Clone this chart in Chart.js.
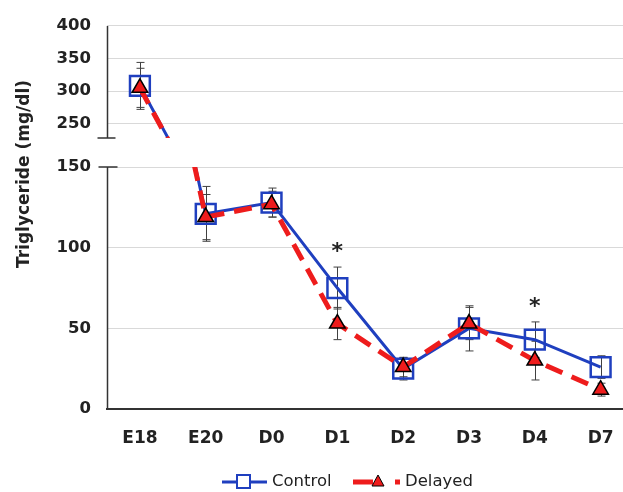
<!DOCTYPE html>
<html>
<head>
<meta charset="utf-8">
<title>Triglyceride</title>
<script src="https://cdn.jsdelivr.net/npm/chart.js@4.4.1/dist/chart.umd.min.js"></script>
<style>
  html, body { margin: 0; padding: 0; background: #fff; overflow: hidden; }
  #wrap { width: 623px; height: 492px; }
</style>
</head>
<body>
<div id="wrap"><canvas id="chart"></canvas></div>
<script>
// data
let categories = ['E18', 'E20', 'D0', 'D1', 'D2', 'D3', 'D4', 'D7'];
let controlValues = [308, 121, 128, 75, 25, 50, 43, 26];
let controlErrors = [36, 17, 9, 13, 7, 14, 11, 7];
let delayedValues = [305, 119, 127, 53, 26, 53, 30, 12];
let delayedErrors = [30, 14, 8, 10, 6, 10, 12, 4];
let significance = ['', '', '', '*', '', '', '*', ''];
let upperTicks = [250, 300, 350, 400];
let lowerTicks = [0, 50, 100, 150];
let seriesNames = ['Control', 'Delayed'];
let axisTitle = 'Triglyceride (mg/dl)';

const BLUE = '#1f3fbf';
const RED = '#ee1c1c';
const INK = '#222222';
const BREAK_LOW = 228;   // bottom of the upper axis
const LOW_MAX = 168;     // top of the lower axis (gap above 150)
const GAP = 29;          // pixels between 150 and the break

function points(values){
  return values.map((v, i) => ({x: i, y: v}));
}

function controlSet(axis, clip){
  return {
    label: seriesNames[0],
    data: points(controlValues),
    yAxisID: axis,
    clip: clip,
    order: 2,
    borderColor: BLUE,
    borderWidth: 3,
    tension: 0,
    pointStyle: 'rect',
    pointRadius: 14,
    pointBorderWidth: 2.5,
    pointBorderColor: BLUE,
    pointBackgroundColor: 'rgba(255,255,255,0)'
  };
}

function delayedSet(axis, clip){
  return {
    label: seriesNames[1],
    data: points(delayedValues),
    yAxisID: axis,
    clip: clip,
    order: 1,
    borderColor: RED,
    borderWidth: 5,
    borderDash: [18, 10],
    tension: 0,
    pointStyle: 'triangle',
    pointRadius: 9,
    pointBorderWidth: 1.5,
    pointBorderColor: '#000',
    pointBackgroundColor: RED
  };
}

let topClip = {left: false, right: false, top: false, bottom: 0};
let lowClip = {left: false, right: false, top: -GAP, bottom: false};

// error bars under the lines
const errorBars = {
  id: 'errorBars',
  beforeDatasetsDraw(chart){
    const {ctx, scales} = chart;
    ctx.save();
    ctx.strokeStyle = '#404040';
    ctx.lineWidth = 1;
    [[controlValues, controlErrors], [delayedValues, delayedErrors]].forEach(([vals, errs]) => {
      vals.forEach((v, i) => {
        const y = v > BREAK_LOW ? scales.yTop : scales.yLow;
        const x = Math.round(scales.x.getPixelForValue(i)) + 0.5;
        const top = y.getPixelForValue(v + errs[i]);
        const bot = y.getPixelForValue(v - errs[i]);
        ctx.beginPath();
        ctx.moveTo(x, top); ctx.lineTo(x, bot);
        ctx.moveTo(x - 4, top); ctx.lineTo(x + 4, top);
        ctx.moveTo(x - 4, bot); ctx.lineTo(x + 4, bot);
        ctx.stroke();
      });
    });
    ctx.restore();
  }
};

// broken y axis, title, stars, legend
const decorations = {
  id: 'decorations',
  afterDraw(chart){
    const {ctx, scales} = chart;
    const yTop = scales.yTop, yLow = scales.yLow, xs = scales.x;
    const ax = Math.round(xs.left) + 0.5;
    ctx.save();
    ctx.strokeStyle = '#333';
    ctx.lineWidth = 1.5;

    // upper axis piece
    let t0 = yTop.getPixelForValue(upperTicks[upperTicks.length - 1]);
    let t1 = yTop.bottom;
    ctx.beginPath();
    ctx.moveTo(ax, t0); ctx.lineTo(ax, t1);
    ctx.moveTo(ax - 10, t1); ctx.lineTo(ax + 8, t1);
    ctx.stroke();

    // lower axis piece
    let l0 = yLow.getPixelForValue(lowerTicks[lowerTicks.length - 1]);
    let l1 = yLow.getPixelForValue(0);
    ctx.beginPath();
    ctx.moveTo(ax - 9, l0); ctx.lineTo(ax + 10, l0);
    ctx.moveTo(ax, l0); ctx.lineTo(ax, l1);
    ctx.stroke();

    // axis title
    ctx.fillStyle = INK;
    ctx.font = 'bold 17px "DejaVu Sans"';
    ctx.textAlign = 'center';
    ctx.textBaseline = 'middle';
    ctx.translate(25, 174);
    ctx.rotate(-Math.PI / 2);
    ctx.fillText(axisTitle, 0, 0);
    ctx.setTransform(1, 0, 0, 1, 0, 0);

    // significance stars
    ctx.font = 'bold 22px "DejaVu Sans"';
    ctx.textBaseline = 'alphabetic';
    significance.forEach((s, i) => {
      if (!s) return;
      const v = controlValues[i] + controlErrors[i];
      const y = (v > BREAK_LOW ? yTop : yLow).getPixelForValue(v);
      ctx.fillText(s, xs.getPixelForValue(i), y - 9);
    });

    // legend
    const ly = 482;
    ctx.lineWidth = 3;
    ctx.strokeStyle = BLUE;
    ctx.beginPath(); ctx.moveTo(222, ly); ctx.lineTo(267, ly); ctx.stroke();
    ctx.lineWidth = 2;
    ctx.fillStyle = '#fff';
    ctx.fillRect(237, ly - 7, 13, 13);
    ctx.strokeRect(237, ly - 7, 13, 13);

    ctx.strokeStyle = RED;
    ctx.lineWidth = 5;
    ctx.setLineDash([20, 22]);
    ctx.beginPath(); ctx.moveTo(353, ly); ctx.lineTo(400, ly); ctx.stroke();
    ctx.setLineDash([]);
    ctx.fillStyle = RED;
    ctx.strokeStyle = '#000';
    ctx.lineWidth = 1;
    ctx.beginPath();
    ctx.moveTo(378, ly - 7); ctx.lineTo(384, ly + 4); ctx.lineTo(372, ly + 4); ctx.closePath();
    ctx.fill(); ctx.stroke();

    ctx.fillStyle = INK;
    ctx.font = '16.5px "DejaVu Sans"';
    ctx.textAlign = 'left';
    ctx.textBaseline = 'middle';
    ctx.fillText(seriesNames[0], 272, ly);
    ctx.fillText(seriesNames[1], 405, ly);
    ctx.restore();
  }
};

let yTickFont = {family: 'DejaVu Sans', size: 16.5, weight: 'bold'};

let ctx = document.getElementById('chart').getContext('2d');
let myChart = new Chart(ctx, {
  type: 'line',
  data: {
    datasets: [
      controlSet('yTop', topClip),
      controlSet('yLow', lowClip),
      delayedSet('yTop', topClip),
      delayedSet('yLow', lowClip)
    ]
  },
  options: {
    responsive: true,
    maintainAspectRatio: false,
    animation: false,
    layout: { autoPadding: false, padding: {top: 23, left: 0, right: 0, bottom: 0} },
    plugins: {
      legend: { display: false },
      tooltip: { enabled: false }
    },
    scales: {
      x: {
        type: 'linear',
        min: -0.5,
        max: 7.34,
        grid: { display: false, drawTicks: false },
        border: { color: '#333', width: 2 },
        afterBuildTicks: (s) => { s.ticks = categories.map((c, i) => ({value: i})); },
        afterFit: (s) => { s.height = 83; s.paddingLeft = 0; s.paddingRight = 0; },
        ticks: {
          padding: 19,
          color: INK,
          font: {family: 'DejaVu Sans', size: 17, weight: 'bold'},
          callback: (v) => categories[v]
        }
      },
      yLow: {
        type: 'linear',
        position: 'left',
        stack: 'y',
        stackWeight: 273,
        min: 0,
        max: LOW_MAX,
        border: { display: false },
        grid: {
          drawTicks: false,
          color: (c) => c.tick && c.tick.value === 0 ? 'rgba(0,0,0,0)' : '#d9d9d9'
        },
        afterBuildTicks: (s) => { s.ticks = lowerTicks.map(v => ({value: v})); },
        afterFit: (s) => { s.width = 107; },
        ticks: { padding: 16, color: INK, font: yTickFont }
      },
      yTop: {
        type: 'linear',
        position: 'left',
        stack: 'y',
        stackWeight: 113,
        min: BREAK_LOW,
        max: 400,
        border: { display: false },
        grid: { drawTicks: false, color: '#d9d9d9' },
        afterBuildTicks: (s) => { s.ticks = upperTicks.map(v => ({value: v})); },
        afterFit: (s) => { s.width = 107; },
        ticks: { padding: 16, color: INK, font: yTickFont }
      }
    }
  },
  plugins: [errorBars, decorations]
});
</script>
</body>
</html>
